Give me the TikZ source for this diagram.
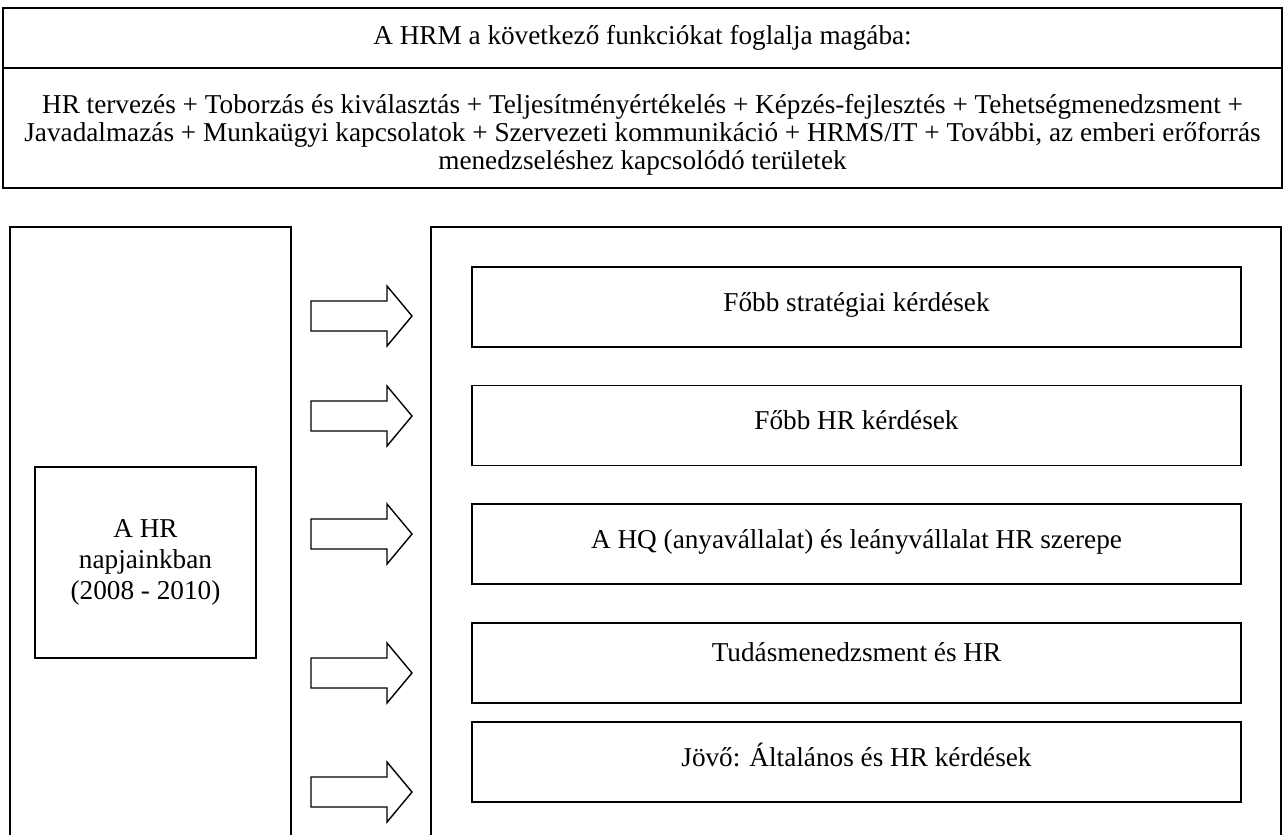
\documentclass[tikz,border=0pt]{standalone}
\usepackage{fontspec}
\setmainfont{Liberation Serif}
\usetikzlibrary{positioning}

\begin{document}
\begin{tikzpicture}[x=0.02cm,y=-0.02cm,line cap=butt,line join=miter,
  font=\fontsize{15.5}{16}\selectfont,
  headbox/.style={draw,line width=1.3pt,minimum width=25.58cm,inner sep=0pt},
  topicbox/.style={draw,line width=0.8pt,minimum width=15.38cm,minimum height=1.6cm,
    text height=9pt,text depth=4pt,inner sep=0pt},
  framebox/.style={draw,line width=0.8pt},
  hollowarrow/.style={draw,line width=0.8pt,fill=white}]
  \useasboundingbox (0,0) rectangle (1285,835);
  % upper block
  \node[headbox,minimum height=1.2cm] (title) at (642.5,38)
    {A HRM a következő funkciókat foglalja magába:};
  \node[headbox,minimum height=2.4cm] (functions) at (642.5,128)
    {\parbox{25cm}{\centering\vspace*{7.5pt}
     HR tervezés + Toborzás és kiválasztás + Teljesítményértékelés + Képzés-fejlesztés + Tehetségmenedzsment +\\
     Javadalmazás + Munkaügyi kapcsolatok + Szervezeti kommunikáció + HRMS/IT + További, az emberi erőforrás\\
     menedzseléshez kapcsolódó területek}};
  % open frames
  \draw[framebox] (10,836) -- (10,227) -- (291,227) -- (291,836);
  \draw[framebox] (431,836) -- (431,227) -- (1281,227) -- (1281,836);
  \node[framebox,minimum width=4.42cm,minimum height=3.82cm,align=center,
    font=\fontsize{15.5}{17.8}\selectfont] (today) at (145.5,562.5)
    {A HR\\ napjainkban\\ (2008 - 2010)};
  % topics
  \node[topicbox] (strategic) at (856.5,307) {Főbb stratégiai kérdések};
  \node[topicbox] (hrissues) at (856.5,425.5) {Főbb HR kérdések};
  \node[topicbox] (hqrole) at (856.5,544) {A HQ (anyavállalat) és leányvállalat HR szerepe};
  \node[topicbox] (knowledge) at (856.5,663) {\raisebox{3.5pt}{Tudásmenedzsment és HR}};
  \node[topicbox] (future) at (856.5,762) {Jövő: Általános és HR kérdések};
  % hollow arrows
  \foreach \c in {316,416,534,673,792}{
    \draw[hollowarrow] (311,\c-15) -- (387,\c-15) -- (387,\c-30) -- (412,\c)
      -- (387,\c+30) -- (387,\c+15) -- (311,\c+15) -- cycle;
  }
\end{tikzpicture}
\end{document}
